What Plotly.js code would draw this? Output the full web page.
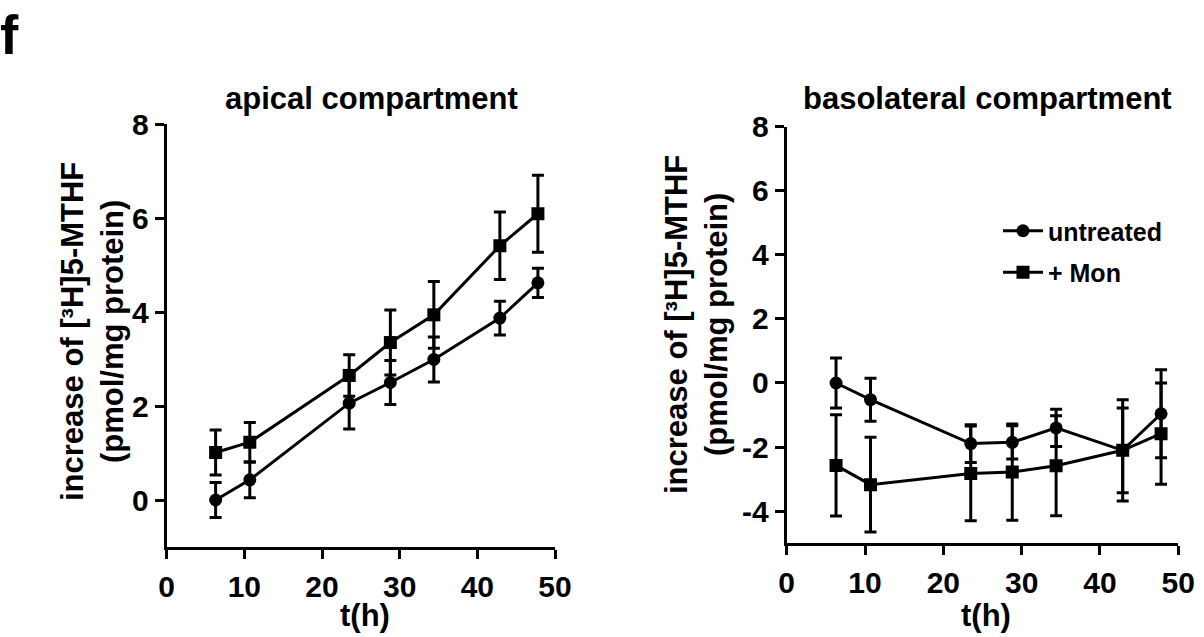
<!DOCTYPE html>
<html><head><meta charset="utf-8">
<script src="https://cdn.plot.ly/plotly-3.0.1.min.js"></script>
<style>html,body{margin:0;padding:0;background:#fff}#c{width:1204px;height:637px}</style>
</head><body><div id="c"></div>
<script>
// time points (h)
const timeH = [6.3, 10.7, 23.5, 28.8, 34.4, 42.9, 47.8];
// apical compartment
const apicalUntreated = [0.0, 0.43, 2.06, 2.5, 2.99, 3.87, 4.62];
const apicalUntreatedErr = [0.37, 0.38, 0.55, 0.47, 0.48, 0.36, 0.31];
const apicalMon = [1.01, 1.23, 2.65, 3.35, 3.94, 5.41, 6.09];
const apicalMonErr = [0.48, 0.42, 0.44, 0.69, 0.71, 0.72, 0.82];
// basolateral compartment
const basoUntreated = [0.0, -0.52, -1.89, -1.85, -1.40, -2.1, -0.96];
const basoUntreatedErr = [0.78, 0.67, 0.59, 0.52, 0.58, 1.58, 1.37];
const basoMon = [-2.57, -3.17, -2.82, -2.78, -2.58, -2.1, -1.58];
const basoMonErr = [1.58, 1.48, 1.48, 1.5, 1.56, 1.32, 1.58];
const seriesNames = ["untreated", "+ Mon"];
const xTicks = [0, 10, 20, 30, 40, 50];
const yTicksApical = [0, 2, 4, 6, 8];
const yTicksBaso = [-4, -2, 0, 2, 4, 6, 8];

const FONT = "Liberation Sans, Arial, Helvetica, sans-serif";
const W = 1204, H = 637;
function mk(x, y, err, name, sym, xa, ya, showleg) {
  return {
    x: x, y: y, name: name, type: "scatter", mode: "lines+markers",
    xaxis: xa, yaxis: ya, showlegend: showleg, legendgroup: name,
    line: {color: "#000", width: 3},
    marker: {color: "#000", symbol: sym, size: 13},
    error_y: {type: "data", array: err, visible: true, color: "#000", thickness: 3, width: 6}
  };
}
const traces = [
  mk(timeH, apicalUntreated, apicalUntreatedErr, seriesNames[0], "circle", "x", "y", false),
  mk(timeH, apicalMon, apicalMonErr, seriesNames[1], "square", "x", "y", false),
  mk(timeH, basoUntreated, basoUntreatedErr, seriesNames[0], "circle", "x2", "y2", true),
  mk(timeH, basoMon, basoMonErr, seriesNames[1], "square", "x2", "y2", true)
];
const tickFont = {family: FONT, size: 30, color: "#000", weight: "bold"};
function xax(domain, anchor) {
  return {domain: domain, anchor: anchor, range: [0, 50], tickvals: xTicks, ticktext: xTicks.map(String),
    showline: true, linewidth: 3,
    linecolor: "#000", ticks: "outside", ticklen: 9, tickwidth: 3, tickcolor: "#000", ticklabelstandoff: 2,
    showgrid: false, zeroline: false, tickfont: tickFont, fixedrange: true, automargin: false};
}
function yax(domain, anchor, range, tv) {
  return {domain: domain, anchor: anchor, range: range, tickvals: tv, ticktext: tv.map(String),
    showline: true, linewidth: 3,
    linecolor: "#000", ticks: "outside", ticklen: 9, tickwidth: 3, tickcolor: "#000",
    showgrid: false, zeroline: false, tickfont: tickFont, fixedrange: true, automargin: false};
}
const ytitle = "increase of [³H]5-MTHF<br>(pmol/mg protein)";
function ann(text, px, py, size, extra) {
  return Object.assign({text: text, x: px / W, y: 1 - py / H, xref: "paper", yref: "paper",
    showarrow: false, xanchor: "center", yanchor: "middle",
    font: {family: FONT, size: size, color: "#000", weight: "bold"}}, extra || {});
}
const layout = {
  width: W, height: H, margin: {l: 0, r: 0, t: 0, b: 0},
  paper_bgcolor: "#fff", plot_bgcolor: "#fff",
  xaxis: xax([166.7 / W, 555 / W], "y"),
  yaxis: yax([(H - 547) / H, (H - 124) / H], "x", [-1, 8], yTicksApical),
  xaxis2: xax([786.7 / W, 1178.3 / W], "y2"),
  yaxis2: yax([(H - 543.3) / H, (H - 126.5) / H], "x2", [-5, 8], yTicksBaso),
  showlegend: true,
  legend: {x: 998 / W, y: 1 - 208 / H, xanchor: "left", yanchor: "top", bgcolor: "rgba(0,0,0,0)",
    font: {family: FONT, size: 25, color: "#000", weight: "bold"}, tracegroupgap: 6, itemwidth: 40},
  annotations: [
    ann("f", 9, 35, 55),
    ann("apical compartment", 371, 98, 31),
    ann("basolateral compartment", 987, 98, 31),
    ann("t(h)", 365, 615, 31),
    ann("t(h)", 986, 615, 31),
    ann(ytitle, 92, 332, 31, {textangle: -90}),
    ann(ytitle, 696, 325, 31, {textangle: -90})
  ]
};
Plotly.newPlot("c", traces, layout, {staticPlot: true, displayModeBar: false});
</script></body></html>
